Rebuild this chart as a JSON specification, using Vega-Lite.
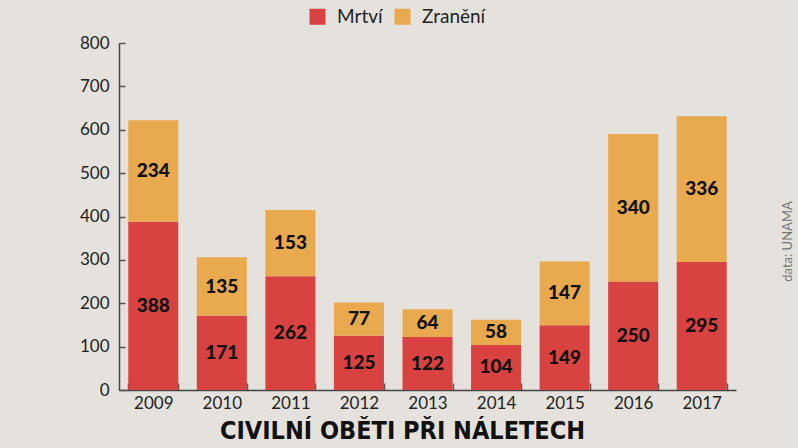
{
  "$schema": "https://vega.github.io/schema/vega-lite/v6.json",
  "width": 617,
  "height": 347,
  "autosize": {"type": "none"},
  "padding": {"left": 119, "top": 43, "right": 62, "bottom": 58},
  "background": "#e5e2dd",
  "title": {
    "text": "CIVILNÍ OBĚTI PŘI NÁLETECH",
    "orient": "bottom",
    "anchor": "middle",
    "dx": -25,
    "offset": 8,
    "font": "DejaVu Sans Condensed, Liberation Sans Narrow, sans-serif",
    "fontSize": 25,
    "fontWeight": 900,
    "color": "#111111"
  },
  "data": {
    "values": [
      {"rok": "2009", "typ": "Mrtví", "poradi": 1, "pocet": 388},
      {"rok": "2009", "typ": "Zranění", "poradi": 2, "pocet": 234},
      {"rok": "2010", "typ": "Mrtví", "poradi": 1, "pocet": 171},
      {"rok": "2010", "typ": "Zranění", "poradi": 2, "pocet": 135},
      {"rok": "2011", "typ": "Mrtví", "poradi": 1, "pocet": 262},
      {"rok": "2011", "typ": "Zranění", "poradi": 2, "pocet": 153},
      {"rok": "2012", "typ": "Mrtví", "poradi": 1, "pocet": 125},
      {"rok": "2012", "typ": "Zranění", "poradi": 2, "pocet": 77},
      {"rok": "2013", "typ": "Mrtví", "poradi": 1, "pocet": 122},
      {"rok": "2013", "typ": "Zranění", "poradi": 2, "pocet": 64},
      {"rok": "2014", "typ": "Mrtví", "poradi": 1, "pocet": 104},
      {"rok": "2014", "typ": "Zranění", "poradi": 2, "pocet": 58},
      {"rok": "2015", "typ": "Mrtví", "poradi": 1, "pocet": 149},
      {"rok": "2015", "typ": "Zranění", "poradi": 2, "pocet": 147},
      {"rok": "2016", "typ": "Mrtví", "poradi": 1, "pocet": 250},
      {"rok": "2016", "typ": "Zranění", "poradi": 2, "pocet": 340},
      {"rok": "2017", "typ": "Mrtví", "poradi": 1, "pocet": 295},
      {"rok": "2017", "typ": "Zranění", "poradi": 2, "pocet": 336}
    ]
  },
  "transform": [
    {"stack": "pocet", "groupby": ["rok"], "sort": [{"field": "poradi", "order": "ascending"}], "as": ["y0", "y1"]},
    {"calculate": "(datum.y0 + datum.y1) / 2", "as": "ymid"}
  ],
  "encoding": {
    "x": {
      "field": "rok",
      "type": "ordinal",
      "scale": {"paddingInner": 0.27, "paddingOuter": 0.135},
      "axis": {
        "title": null,
        "labelAngle": 0,
        "labelFont": "Lato",
        "labelFontSize": 17,
        "labelColor": "#222222",
        "labelPadding": 12,
        "tickBand": "extent",
        "tickSize": -7,
        "tickColor": "#555555",
        "tickWidth": 1.5,
        "domainColor": "#444444",
        "domainWidth": 1.5
      }
    }
  },
  "layer": [
    {
      "mark": {"type": "bar"},
      "encoding": {
        "y": {
          "field": "y0",
          "type": "quantitative",
          "scale": {"domain": [0, 800]},
          "axis": {
            "title": null,
            "values": [0, 100, 200, 300, 400, 500, 600, 700, 800],
            "grid": false,
            "labelFont": "Lato",
            "labelFontSize": 17,
            "labelColor": "#222222",
            "labelPadding": 16,
            "tickSize": -6,
            "tickColor": "#555555",
            "tickWidth": 1.5,
            "domainColor": "#444444",
            "domainWidth": 1.5
          }
        },
        "y2": {"field": "y1"},
        "color": {
          "field": "typ",
          "type": "nominal",
          "scale": {"domain": ["Mrtví", "Zranění"], "range": ["#d84240", "#e8a94f"]},
          "legend": {
            "title": null,
            "orient": "none",
            "direction": "horizontal",
            "legendX": 189,
            "legendY": -36,
            "symbolType": "square",
            "symbolSize": 256,
            "symbolStrokeWidth": 0,
            "labelFont": "Lato",
            "labelFontSize": 19,
            "labelColor": "#222222",
            "labelOffset": 10,
            "columnPadding": 10,
            "padding": 0
          }
        }
      }
    },
    {
      "mark": {"type": "text", "font": "Lato", "fontSize": 19, "fontWeight": 900, "color": "#111111", "baseline": "middle"},
      "encoding": {
        "y": {"field": "ymid", "type": "quantitative", "axis": null},
        "text": {"field": "pocet", "type": "quantitative"}
      }
    },
    {
      "mark": {"type": "rule", "opacity": 0},
      "encoding": {
        "y": {
          "datum": 0,
          "type": "quantitative",
          "axis": {
            "orient": "right",
            "title": "data: UNAMA",
            "labels": false,
            "ticks": false,
            "domain": false,
            "grid": false,
            "titleAngle": 270,
            "titleFont": "Lato",
            "titleFontSize": 13,
            "titleFontWeight": "normal",
            "titleColor": "#777777",
            "titlePadding": 51,
            "titleY": 198,
            "titleAlign": "center",
            "titleBaseline": "middle"
          }
        }
      }
    }
  ],
  "resolve": {"axis": {"y": "independent"}},
  "config": {"view": {"stroke": null}}
}
